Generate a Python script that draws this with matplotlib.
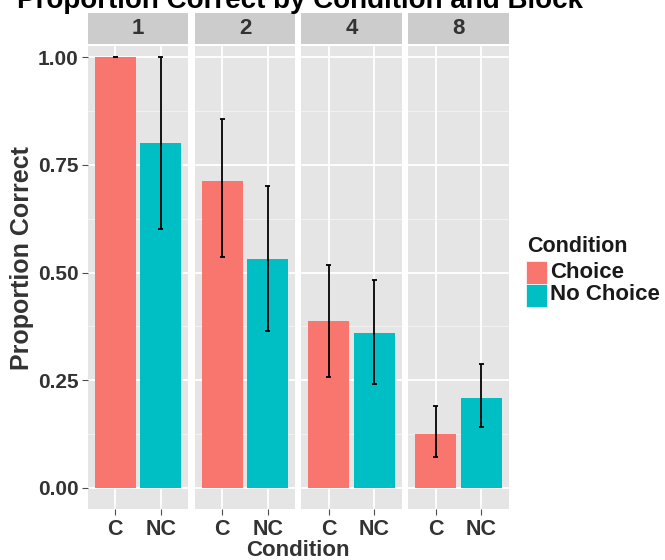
import matplotlib
matplotlib.use("Agg")
import matplotlib.pyplot as plt
from matplotlib.patches import Rectangle

blocks = ["1", "2", "4", "8"]
conditions = ["C", "NC"]
legend_labels = ["Choice", "No Choice"]
colors = ["#F8766D", "#00BFC4"]
choice_mean = [1.00, 0.712, 0.387, 0.125]
choice_lo = [1.00, 0.536, 0.258, 0.071]
choice_hi = [1.00, 0.857, 0.518, 0.190]
nochoice_mean = [0.80, 0.531, 0.359, 0.209]
nochoice_lo = [0.60, 0.364, 0.241, 0.142]
nochoice_hi = [1.00, 0.700, 0.483, 0.288]
yticks = [0.0, 0.25, 0.5, 0.75, 1.0]
ytick_labels = ["0.00", "0.25", "0.50", "0.75", "1.00"]

W, H = 665, 560
fig = plt.figure(figsize=(W / 100, H / 100), dpi=100)
plt.rcParams['font.family'] = ['Liberation Sans', 'DejaVu Sans']
txt = "#333333"

def box(x0, y0, x1, y1):
    return [x0 / W, 1 - y1 / H, (x1 - x0) / W, (y1 - y0) / H]

panels = [(88, 188), (195, 295), (301, 402), (408, 509)]
ptop, pbot = 46, 509
stop, sbot = 13, 44

for i, (x0, x1) in enumerate(panels):
    ax = fig.add_axes(box(x0, ptop, x1, pbot))
    ax.set_facecolor("#E5E5E5")
    ax.set_xlim(0.4, 2.6)
    ax.set_ylim(-0.049, 1.026)
    for m in [0.125, 0.375, 0.625, 0.875]:
        ax.axhline(m, color="#F2F2F2", lw=0.7, zorder=0)
    for t in yticks:
        ax.axhline(t, color="white", lw=1.3, zorder=0)
    for xp in [1, 2]:
        ax.axvline(xp, color="white", lw=1.3, zorder=0)
    means = [choice_mean[i], nochoice_mean[i]]
    los = [choice_lo[i], nochoice_lo[i]]
    his = [choice_hi[i], nochoice_hi[i]]
    ax.bar([1, 2], means, width=0.9, color=colors, zorder=2)
    for xp, lo, hi in zip([1, 2], los, his):
        ax.vlines(xp, lo, hi, color="black", lw=1.3, zorder=3)
        ax.hlines([lo, hi], xp - 0.05, xp + 0.05, color="black", lw=1.3, zorder=3)
    for s in ax.spines.values():
        s.set_visible(False)
    ax.set_xticks([1, 2])
    ax.set_xticklabels(conditions, fontsize=15.5, fontweight="bold", color=txt)
    ax.tick_params(axis="x", length=4, color="#4D4D4D", pad=3)
    ax.set_yticks(yticks)
    if i == 0:
        ax.set_yticklabels(ytick_labels, fontsize=15, fontweight="bold", color=txt)
        ax.tick_params(axis="y", length=4, color="#4D4D4D", pad=3)
    else:
        ax.tick_params(axis="y", length=0, labelleft=False)
    # strip
    sax = fig.add_axes(box(x0, stop, x1, sbot))
    sax.set_facecolor("#CCCCCC")
    sax.set_xticks([]); sax.set_yticks([])
    for s in sax.spines.values():
        s.set_visible(False)
    sax.text(0.5, 0.5, blocks[i], transform=sax.transAxes, ha="center", va="center",
             fontsize=16, fontweight="bold", color=txt)

fig.text(298 / W, 1 - 550.5 / H, "Condition", ha="center", va="center",
         fontsize=16, fontweight="bold", color=txt)
fig.text(22 / W, 1 - 258 / H, "Proportion Correct", ha="center", va="center",
         rotation=90, fontsize=18, fontweight="bold", color=txt)
fig.text(17 / W, 1 - 8 / H, "Proportion Correct by Condition and Block", ha="left",
         va="baseline", fontsize=20, fontweight="bold", color="black")

# legend
fig.text(527 / W, 1 - 247 / H, "Condition", ha="left", va="center",
         fontsize=15.5, fontweight="bold", color="#1a1a1a")
for j, (lab, col) in enumerate(zip(legend_labels, colors)):
    yc = 272 + j * 23
    r = Rectangle((526 / W, 1 - (yc + 11.5) / H), 21 / W, 23 / H,
                  transform=fig.transFigure, facecolor=col, edgecolor="white", lw=0.5)
    fig.patches.append(r)
    fig.text(550 / W, 1 - yc / H, lab, ha="left", va="center",
             fontsize=16, fontweight="bold", color="#1a1a1a")

fig.savefig("out.png", dpi=100)
